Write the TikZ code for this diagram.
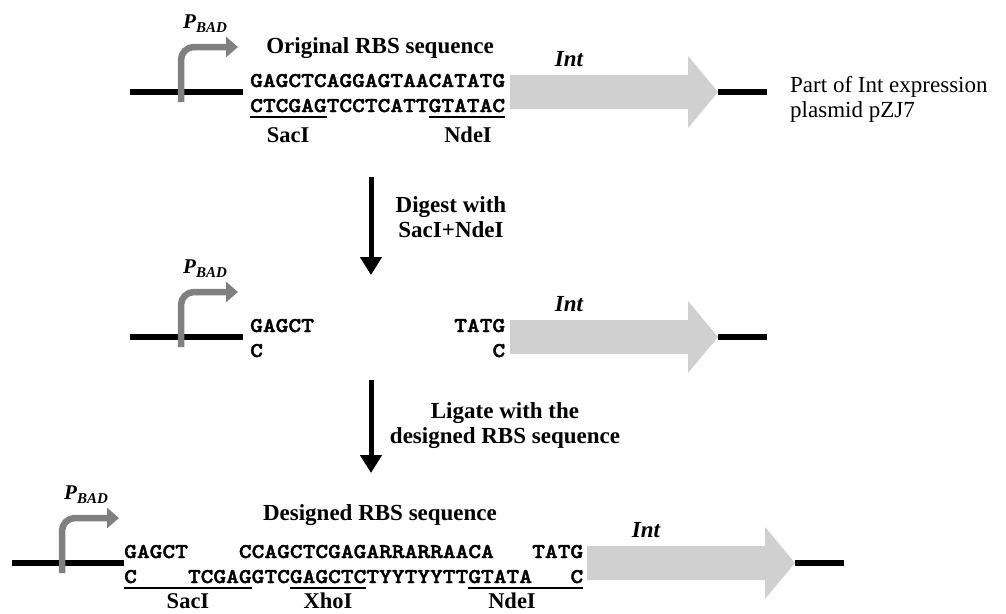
\documentclass[tikz,border=0pt]{standalone}
\usepackage{fontspec}
\setmainfont{Liberation Serif}
\newfontfamily\seqfont{lmmonolt10-bold.otf}[FakeStretch=1.156,FakeBold=1.8]
\usetikzlibrary{arrows.meta}
\definecolor{promgray}{RGB}{128,128,128}
\definecolor{intgray}{RGB}{208,208,208}
\tikzset{
  dna/.style={line width=6pt, draw=black},
  prom/.style={line width=6.5pt, draw=promgray, rounded corners=13pt, -{Triangle[length=12pt,width=20pt]}},
  flow/.style={line width=5pt, -{Triangle[length=18pt,width=21pt]}},
  seq/.style={font=\seqfont\fontsize{21}{21}\selectfont, inner sep=0pt, anchor=base west},
  ul/.style={line width=1.5pt},
  site/.style={font=\bfseries\fontsize{22.5}{22.5}\selectfont, inner sep=0pt, anchor=base},
  title/.style={font=\bfseries\fontsize{23}{23}\selectfont, inner sep=0pt, anchor=base},
  plain/.style={font=\fontsize{23}{23}\selectfont, inner sep=0pt, anchor=base west},
  genelbl/.style={font=\bfseries\itshape\fontsize{23}{23}\selectfont, inner sep=0pt},
  promoter/.pic={
    \draw[prom] (0,10) |- (57,-45);
    \node[inner sep=0pt, anchor=base west, font=\bfseries\itshape\fontsize{21}{21}\selectfont] (-pb) at (2,-64)
      {P\raisebox{-4pt}{\fontsize{15}{15}\selectfont BAD}};
  },
  intgene/.pic={
    \fill[intgray] (0,-17) -- (178,-17) -- (178,-36) -- (208,0) -- (178,36) -- (178,17) -- (0,17) -- cycle;
    \coordinate (-tip) at (208,0);
    \coordinate (-end) at (257,0);
    \draw[dna] (-tip) -- (-end);
    \node[genelbl] (-lbl) at (59,-33) {Int};
  },
}
\begin{document}
\begin{tikzpicture}[x=1pt,y=-1pt]
\useasboundingbox (0,0) rectangle (1006,613);

% ---------- top section ----------
\coordinate (t1s) at (130,92);
\coordinate (t1e) at (243,92);
\draw[dna] (t1s) -- (t1e);
\pic (pA) at (181,92) {promoter};
\node[title] (titleA) at (380,53) {Original RBS sequence};
\node[seq] (sA1) at (250,87) {GAGCTCAGGAGTAACATATG};
\node[seq] (sA2) at (250,112) {CTCGAGTCCTCATTGTATAC};
\coordinate (uA1a) at (250,117); \coordinate (uA1b) at (326.5,117);
\coordinate (uA2a) at (428.5,117); \coordinate (uA2b) at (505,117);
\draw[ul] (uA1a) -- (uA1b);
\draw[ul] (uA2a) -- (uA2b);
\node[site] (sacA) at (288,142) {SacI};
\node[site] (ndeA) at (468,142) {NdeI};
\pic (intA) at (510,92) {intgene};
\node[plain] (noteA) at (790,92) {Part of Int expression};
\node[plain] (noteB) at (790,117) {plasmid pZJ7};

% ---------- arrow 1 ----------
\coordinate (d1a) at (371,177);
\coordinate (d1b) at (371,275);
\draw[flow] (d1a) -- (d1b);
\node[title] (dig1) at (451,212) {Digest with};
\node[title] (dig2) at (451,237) {SacI+NdeI};

% ---------- middle section ----------
\coordinate (t2s) at (130,337);
\coordinate (t2e) at (243,337);
\draw[dna] (t2s) -- (t2e);
\pic (pB) at (181,337) {promoter};
\node[seq] (sB1) at (250,332) {GAGCT};
\node[seq] (sB2) at (250,357) {C};
\node[seq] (sB3) at (454,332) {TATG};
\node[seq] (sB4) at (492.25,357) {C};
\pic (intB) at (510,337) {intgene};

% ---------- arrow 2 ----------
\coordinate (d2a) at (371,380);
\coordinate (d2b) at (371,473);
\draw[flow] (d2a) -- (d2b);
\node[title] (lig1) at (505,418) {Ligate with the};
\node[title] (lig2) at (505,443) {designed RBS sequence};

% ---------- bottom section ----------
\coordinate (t3s) at (12,563);
\coordinate (t3e) at (124,563);
\draw[dna] (t3s) -- (t3e);
\pic (pC) at (62,563) {promoter};
\node[title] (titleC) at (380,520) {Designed RBS sequence};
\node[seq] (sC1) at (124,558) {GAGCT};
\node[seq] (sC2) at (238.75,558) {CCAGCTCGAGARRARRAACA};
\node[seq] (sC3) at (532,558) {TATG};
\node[seq] (sC4) at (124,583) {C};
\node[seq] (sC5) at (187.75,583) {TCGAGGTCGAGCTCTYYTYYTTGTATA};
\node[seq] (sC6) at (570.25,583) {C};
\coordinate (uC1a) at (124,588); \coordinate (uC1b) at (251.5,588);
\coordinate (uC2a) at (289.75,588); \coordinate (uC2b) at (366.25,588);
\coordinate (uC3a) at (468.25,588); \coordinate (uC3b) at (583,588);
\draw[ul] (uC1a) -- (uC1b);
\draw[ul] (uC2a) -- (uC2b);
\draw[ul] (uC3a) -- (uC3b);
\node[site] (sacC) at (188,608) {SacI};
\node[site] (xhoC) at (328,608) {XhoI};
\node[site] (ndeC) at (512,608) {NdeI};
\pic (intC) at (587,563) {intgene};
\end{tikzpicture}
\end{document}
